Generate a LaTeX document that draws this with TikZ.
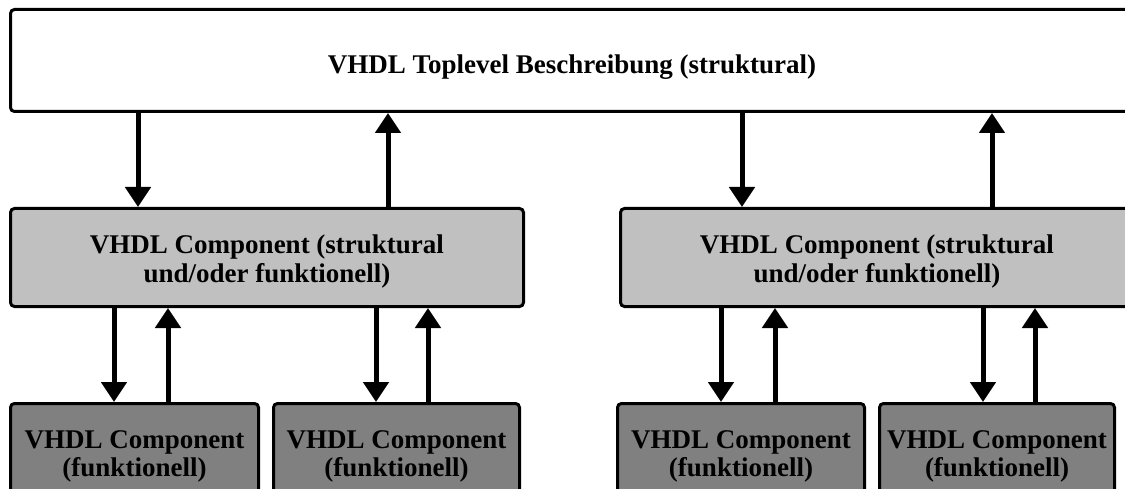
\documentclass[tikz,border=0pt]{standalone}
\usepackage{fontspec}
\setmainfont{Liberation Serif}
\usetikzlibrary{arrows.meta}
\definecolor{midgray}{HTML}{C0C0C0}
\definecolor{lowgray}{HTML}{808080}
\begin{document}
\begin{tikzpicture}[x=1pt,y=-1pt,
  box/.style={draw=black,line width=3pt,rounded corners=4pt,anchor=north west,
    inner sep=0pt,align=center,font=\fontsize{27}{28.5}\selectfont\bfseries},
  topbox/.style={box,fill=white},
  midbox/.style={box,fill=midgray},
  lowbox/.style={box,fill=lowgray},
  arr/.style={line width=5pt,-{Triangle[width=25pt,length=20pt]}}]
\useasboundingbox (0,0) rectangle (1125,489);
\clip (0,0) rectangle (1125,489);
% top level
\node[topbox,minimum width=1123pt,minimum height=102pt,text height=33pt,text depth=6pt] (top) at (9,8)
  {VHDL Toplevel Beschreibung (struktural)};
% structural components
\node[midbox,minimum width=513pt,minimum height=98pt,text height=55pt] (midL) at (9,207)
  {VHDL Component (struktural\\und/oder funktionell)};
\node[midbox,minimum width=513pt,minimum height=98pt,text height=55pt] (midR) at (619,207)
  {VHDL Component (struktural\\und/oder funktionell)};
% functional components
\node[lowbox,minimum width=248pt,minimum height=106pt] (lowA) at (9,402)
  {VHDL Component\\(funktionell)};
\node[lowbox,minimum width=246pt,minimum height=106pt] (lowB) at (272,402)
  {VHDL Component\\(funktionell)};
\node[lowbox,minimum width=247pt,minimum height=106pt] (lowC) at (616,402)
  {VHDL Component\\(funktionell)};
\node[lowbox,minimum width=235pt,minimum height=106pt] (lowD) at (878,402)
  {VHDL Component\\(funktionell)};
% top <-> structural
\draw[arr] (138,0 |- top.south) -- (138,0 |- midL.north);
\draw[arr] (388,0 |- midL.north) -- (388,0 |- top.south);
\draw[arr] (742,0 |- top.south) -- (742,0 |- midR.north);
\draw[arr] (992,0 |- midR.north) -- (992,0 |- top.south);
% structural <-> functional
\draw[arr] (114,0 |- midL.south) -- (114,0 |- lowA.north);
\draw[arr] (168,0 |- lowA.north) -- (168,0 |- midL.south);
\draw[arr] (376,0 |- midL.south) -- (376,0 |- lowB.north);
\draw[arr] (428,0 |- lowB.north) -- (428,0 |- midL.south);
\draw[arr] (721,0 |- midR.south) -- (721,0 |- lowC.north);
\draw[arr] (775,0 |- lowC.north) -- (775,0 |- midR.south);
\draw[arr] (983,0 |- midR.south) -- (983,0 |- lowD.north);
\draw[arr] (1035,0 |- lowD.north) -- (1035,0 |- midR.south);
\end{tikzpicture}
\end{document}
